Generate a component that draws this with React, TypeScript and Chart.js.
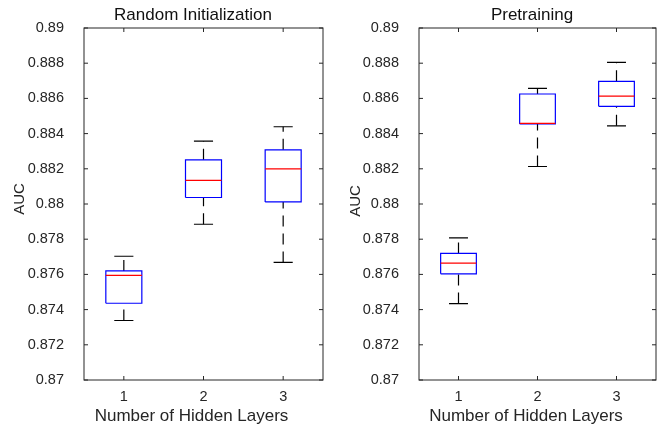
import React, { useEffect, useRef } from 'react';
import { Chart, registerables } from 'chart.js';

Chart.register(...registerables);

// ---- data ----
const categories = [1, 2, 3];
const yTicks = [0.87, 0.872, 0.874, 0.876, 0.878, 0.88, 0.882, 0.884, 0.886, 0.888, 0.89];
const yTickLabels = ['0.87', '0.872', '0.874', '0.876', '0.878', '0.88', '0.882', '0.884', '0.886', '0.888', '0.89'];
const xTickLabels = ['1', '2', '3'];

const randomMin = [0.87338, 0.87885, 0.87668];
const randomQ1 = [0.87436, 0.88037, 0.88012];
const randomMedian = [0.87595, 0.88134, 0.882];
const randomQ3 = [0.8762, 0.88251, 0.88308];
const randomMax = [0.87703, 0.88357, 0.88439];

const pretrainMin = [0.87434, 0.88213, 0.88444];
const pretrainQ1 = [0.87603, 0.88455, 0.88555];
const pretrainMedian = [0.87664, 0.88458, 0.88613];
const pretrainQ3 = [0.87719, 0.88625, 0.88697];
const pretrainMax = [0.87808, 0.88657, 0.88805];

const titleRandom = 'Random Initialization';
const titlePretrain = 'Pretraining';
const xAxisTitle = 'Number of Hidden Layers';
const yAxisTitle = 'AUC';

// ---- styling ----
const FONT = "'Liberation Sans', Arial, Helvetica, sans-serif";
const INK = '#262626';
const BOX_HALF = 0.226;
const CAP_HALF = 0.12;

type Pt = { x: number; y: number | null };

function buildDatasets(mn: number[], q1: number[], md: number[], q3: number[], mx: number[]) {
  const boxes: Pt[] = [];
  const medians: Pt[] = [];
  const whiskers: Pt[] = [];
  const caps: Pt[] = [];
  categories.forEach((c, i) => {
    boxes.push(
      { x: c - BOX_HALF, y: q1[i] },
      { x: c + BOX_HALF, y: q1[i] },
      { x: c + BOX_HALF, y: q3[i] },
      { x: c - BOX_HALF, y: q3[i] },
      { x: c - BOX_HALF, y: q1[i] },
      { x: c, y: null }
    );
    medians.push({ x: c - BOX_HALF, y: md[i] }, { x: c + BOX_HALF, y: md[i] }, { x: c, y: null });
    whiskers.push(
      { x: c, y: mn[i] },
      { x: c, y: q1[i] },
      { x: c, y: null },
      { x: c, y: q3[i] },
      { x: c, y: mx[i] },
      { x: c, y: null }
    );
    caps.push(
      { x: c - CAP_HALF, y: mn[i] },
      { x: c + CAP_HALF, y: mn[i] },
      { x: c, y: null },
      { x: c - CAP_HALF, y: mx[i] },
      { x: c + CAP_HALF, y: mx[i] },
      { x: c, y: null }
    );
  });
  const common = {
    pointRadius: 0,
    pointHoverRadius: 0,
    tension: 0,
    fill: false,
    spanGaps: false,
    borderWidth: 1.2,
    borderCapStyle: 'butt' as const,
  };
  return [
    { ...common, label: 'median', data: medians, borderColor: '#ff0000', order: 0 },
    { ...common, label: 'box', data: boxes, borderColor: '#0000ff', order: 1 },
    { ...common, label: 'cap', data: caps, borderColor: '#000000', order: 2 },
    { ...common, label: 'whisker', data: whiskers, borderColor: '#000000', borderDash: [11, 7], order: 3 },
  ];
}

const framePlugin = {
  id: 'matlabFrame',
  afterDatasetsDraw(chart: any) {
    const { ctx, chartArea: a, scales } = chart;
    const x = scales.x;
    const y = scales.y;
    const t = 4;
    ctx.save();
    ctx.strokeStyle = INK;
    ctx.lineWidth = 1;
    ctx.setLineDash([]);
    ctx.strokeRect(a.left, a.top, a.right - a.left, a.bottom - a.top);
    ctx.beginPath();
    yTicks.forEach((v) => {
      const py = y.getPixelForValue(v);
      ctx.moveTo(a.left, py);
      ctx.lineTo(a.left + t, py);
      ctx.moveTo(a.right, py);
      ctx.lineTo(a.right - t, py);
    });
    categories.forEach((v) => {
      const px = x.getPixelForValue(v);
      ctx.moveTo(px, a.bottom);
      ctx.lineTo(px, a.bottom - t);
      ctx.moveTo(px, a.top);
      ctx.lineTo(px, a.top + t);
    });
    ctx.stroke();
    ctx.restore();
  },
};

type TextPos = {
  title: string;
  titleX: number;
  titleY: number;
  xlabelX: number;
  xlabelY: number;
  ylabelX: number;
  ylabelY: number;
};

function makeTextPlugin(p: TextPos) {
  return {
    id: 'panelTexts',
    afterDraw(chart: any) {
      const { ctx } = chart;
      ctx.save();
      ctx.textAlign = 'center';
      ctx.textBaseline = 'alphabetic';
      ctx.fillStyle = '#111111';
      ctx.font = `17px ${FONT}`;
      ctx.fillText(p.title, p.titleX, p.titleY);
      ctx.fillStyle = INK;
      ctx.fillText(xAxisTitle, p.xlabelX, p.xlabelY);
      ctx.translate(p.ylabelX, p.ylabelY);
      ctx.rotate(-Math.PI / 2);
      ctx.textBaseline = 'middle';
      ctx.font = `15px ${FONT}`;
      ctx.fillText(yAxisTitle, 0, 0);
      ctx.restore();
    },
  };
}

type PanelProps = {
  left: number;
  yAxisWidth: number;
  rightPad: number;
  mn: number[];
  q1: number[];
  md: number[];
  q3: number[];
  mx: number[];
  text: TextPos;
};

function Panel(props: PanelProps) {
  const ref = useRef<HTMLCanvasElement | null>(null);
  useEffect(() => {
    if (!ref.current) return;
    const chart = new Chart(ref.current, {
      type: 'line',
      data: { datasets: buildDatasets(props.mn, props.q1, props.md, props.q3, props.mx) as any },
      options: {
        animation: false,
        responsive: false,
        devicePixelRatio: 1,
        events: [],
        layout: { padding: { top: 28, right: props.rightPad, bottom: 0, left: 0 } },
        plugins: { legend: { display: false }, tooltip: { enabled: false }, title: { display: false } },
        scales: {
          x: {
            type: 'linear',
            min: 0.5,
            max: 3.5,
            grid: { display: false },
            border: { display: false },
            afterBuildTicks: (s: any) => {
              s.ticks = categories.map((v) => ({ value: v }));
            },
            afterFit: (s: any) => {
              s.height = 46;
            },
            ticks: {
              autoSkip: false,
              maxRotation: 0,
              padding: 0,
              color: INK,
              font: { family: FONT, size: 14.5 },
              callback: (_v: any, i: number) => xTickLabels[i],
            },
          },
          y: {
            type: 'linear',
            min: 0.87,
            max: 0.89,
            grid: { display: false },
            border: { display: false },
            afterBuildTicks: (s: any) => {
              s.ticks = yTicks.map((v) => ({ value: v }));
            },
            afterFit: (s: any) => {
              s.width = props.yAxisWidth;
            },
            ticks: {
              autoSkip: false,
              padding: 12,
              color: INK,
              font: { family: FONT, size: 14.5 },
              callback: (_v: any, i: number) => yTickLabels[i],
            },
          },
        },
      } as any,
      plugins: [framePlugin, makeTextPlugin(props.text)],
    });
    return () => chart.destroy();
  }, []);
  return (
    <canvas
      ref={ref}
      width={331}
      height={426}
      style={{ position: 'absolute', left: props.left, top: 0, width: 331, height: 426, display: 'block' }}
    />
  );
}

export default function App() {
  return (
    <div style={{ position: 'absolute', left: 0, top: 0, width: 662, height: 426, background: '#ffffff' }}>
      <Panel
        left={0}
        yAxisWidth={84}
        rightPad={8}
        mn={randomMin}
        q1={randomQ1}
        md={randomMedian}
        q3={randomQ3}
        mx={randomMax}
        text={{ title: titleRandom, titleX: 193, titleY: 20, xlabelX: 191.5, xlabelY: 421, ylabelX: 20, ylabelY: 199 }}
      />
      <Panel
        left={331}
        yAxisWidth={88}
        rightPad={6}
        mn={pretrainMin}
        q1={pretrainQ1}
        md={pretrainMedian}
        q3={pretrainQ3}
        mx={pretrainMax}
        text={{ title: titlePretrain, titleX: 201, titleY: 20, xlabelX: 195, xlabelY: 421, ylabelX: 25, ylabelY: 201 }}
      />
    </div>
  );
}
